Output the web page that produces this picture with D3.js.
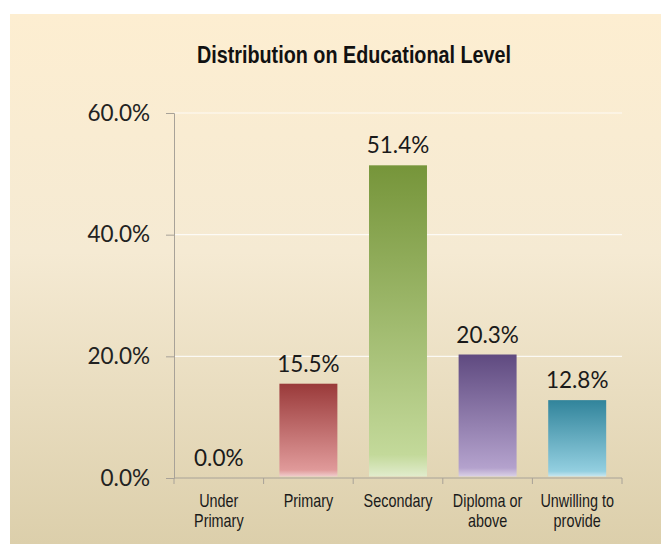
<!DOCTYPE html>
<html>
<head>
<meta charset="utf-8">
<script src="https://cdn.jsdelivr.net/npm/d3@7"></script>
<style>
  body { margin: 0; background: #fff; }
  svg { display: block; }
</style>
</head>
<body>
<script>
const categories = [['Under', 'Primary'], ['Primary'], ['Secondary'], ['Diploma or', 'above'], ['Unwilling to', 'provide']];
const values = [0.0, 15.5, 51.4, 20.3, 12.8];
const yTicks = [0, 20, 40, 60];
const topColors = ['#9a3a3a', '#9a3a3a', '#76953a', '#5f4a80', '#31849b'];
const bottomColors = ['#e09a9a', '#e09a9a', '#c3d99a', '#b4a2cd', '#93cfe0'];

const width = 661;
const height = 544;
const narrow = '"Liberation Sans", Arial, sans-serif';

const svg = d3.select('body')
  .append('svg')
  .attr('width', width)
  .attr('height', height);

const defs = svg.append('defs');

// background gradient
const bg = defs.append('linearGradient')
  .attr('id', 'bg')
  .attr('x1', 0).attr('y1', 0).attr('x2', 0).attr('y2', 1);
bg.append('stop').attr('offset', '0%').attr('stop-color', '#fdeed1');
bg.append('stop').attr('offset', '45%').attr('stop-color', '#f5ead3');
bg.append('stop').attr('offset', '100%').attr('stop-color', '#dccfab');

svg.append('rect')
  .attr('x', 10)
  .attr('y', 14)
  .attr('width', width - 10)
  .attr('height', height - 14)
  .attr('fill', 'url(#bg)');

// bar gradients
values.forEach((v, i) => {
  const g = defs.append('linearGradient')
    .attr('id', `bar${i}`)
    .attr('x1', 0).attr('y1', 0).attr('x2', 0).attr('y2', 1);
  g.append('stop').attr('offset', '0%').attr('stop-color', topColors[i]);
  g.append('stop').attr('offset', '93%').attr('stop-color', bottomColors[i]);
  g.append('stop').attr('offset', '100%').attr('stop-color', d3.interpolateRgb(bottomColors[i], '#ffffff')(0.5));
});

// TITLE (narrow look via horizontal scale)
svg.append('text')
  .attr('transform', 'translate(354, 63) scale(0.86, 1)')
  .attr('text-anchor', 'middle')
  .style('font-family', narrow)
  .style('font-weight', 'bold')
  .style('font-size', '23px')
  .style('fill', '#111')
  .text('Distribution on Educational Level');

// SCALES
const xScale = d3.scaleBand()
  .domain(d3.range(categories.length))
  .range([174, 622])
  .paddingInner(0.353)
  .paddingOuter(0.1765);

const yScale = d3.scaleLinear()
  .domain([0, 60])
  .range([478, 113]);

// GRID
svg.append('g')
  .selectAll('line')
  .data(yTicks.filter(d => d > 0))
  .enter()
  .append('line')
  .attr('x1', 174)
  .attr('x2', 622)
  .attr('y1', d => yScale(d))
  .attr('y2', d => yScale(d))
  .attr('stroke', '#ffffff')
  .attr('stroke-opacity', 0.8)
  .attr('stroke-width', 1.2);

// BARS
svg.append('g')
  .selectAll('rect')
  .data(values)
  .enter()
  .append('rect')
  .attr('x', (d, i) => xScale(i))
  .attr('y', d => yScale(d))
  .attr('width', xScale.bandwidth())
  .attr('height', d => Math.max(0, yScale(0) - yScale(d) - 1.5))
  .attr('fill', (d, i) => `url(#bar${i})`);

// VALUE LABELS
svg.append('g')
  .selectAll('text')
  .data(values)
  .enter()
  .append('text')
  .attr('x', (d, i) => xScale(i) + xScale.bandwidth() / 2)
  .attr('y', d => yScale(d) - 12)
  .attr('text-anchor', 'middle')
  .style('font-family', 'Lato, "Open Sans", sans-serif')
  .style('font-size', '22.5px')
  .style('fill', '#1a1a1a')
  .text(d => `${d.toFixed(1)}%`);

// Y-AXIS
const yAxis = d3.axisLeft(yScale)
  .tickValues(yTicks)
  .tickSize(8)
  .tickPadding(16)
  .tickFormat(d => `${d.toFixed(1)}%`);

const yg = svg.append('g')
  .attr('transform', 'translate(174, 0)')
  .call(yAxis);
yg.select('.domain').attr('stroke', '#a8a298');
yg.selectAll('.tick line').attr('stroke', '#a8a298');
yg.selectAll('.tick text')
  .style('font-family', 'Lato, "Open Sans", sans-serif')
  .style('font-size', '22.5px')
  .style('fill', '#222');

// X-AXIS
const xg = svg.append('g')
  .attr('transform', 'translate(0, 478)');
xg.append('line')
  .attr('x1', 174).attr('x2', 622)
  .attr('stroke', '#a8a298');
const xTickPos = d3.range(categories.length + 1).map(i => 174 + i * xScale.step());
xg.selectAll('.xtick')
  .data(xTickPos)
  .enter()
  .append('line')
  .attr('class', 'xtick')
  .attr('x1', d => d).attr('x2', d => d)
  .attr('y1', 0).attr('y2', 6)
  .attr('stroke', '#a8a298');

const labels = xg.selectAll('.xlabel')
  .data(categories)
  .enter()
  .append('text')
  .attr('class', 'xlabel')
  .attr('transform', (d, i) => `translate(${xScale(i) + xScale.bandwidth() / 2}, 29) scale(0.8, 1)`)
  .attr('text-anchor', 'middle')
  .style('font-family', narrow)
  .style('font-size', '18px')
  .style('fill', '#1a1a1a');

labels.selectAll('tspan')
  .data(d => d)
  .enter()
  .append('tspan')
  .attr('x', 0)
  .attr('dy', (d, i) => i === 0 ? 0 : 20)
  .text(d => d);
</script>
</body>
</html>
